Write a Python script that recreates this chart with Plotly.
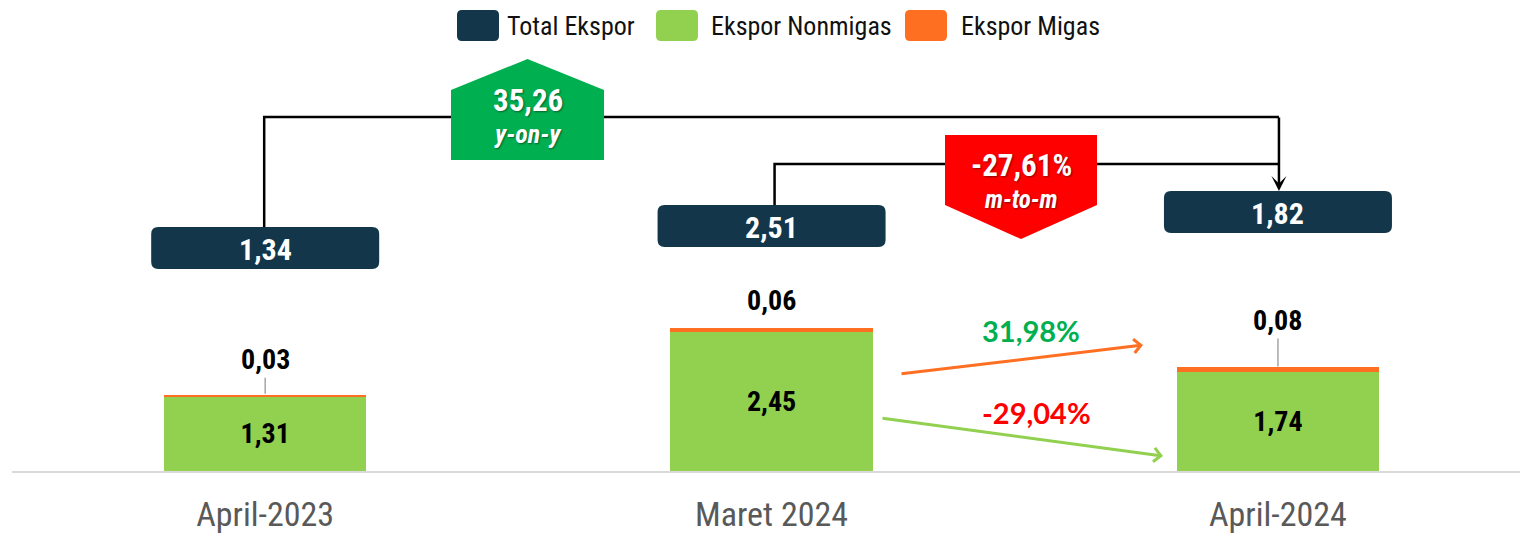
import subprocess
import plotly.graph_objects as go

# ---- data -----------------------------------------------------------------
categories = ["April-2023", "Maret 2024", "April-2024"]
nonmigas = [1.31, 2.45, 1.74]
migas = [0.03, 0.06, 0.08]
total = [1.34, 2.51, 1.82]
series_names = ["Total Ekspor", "Ekspor Nonmigas", "Ekspor Migas"]
yoy_change = 35.26
mtm_change = -27.61
migas_change = 31.98
nonmigas_change = -29.04


# ---- fonts ----------------------------------------------------------------
def installed_families():
    try:
        out = subprocess.run(["fc-list", ":", "family"], capture_output=True,
                             text=True, timeout=10).stdout
    except Exception:
        return set()
    fams = set()
    for line in out.splitlines():
        for f in line.split(","):
            fams.add(f.strip())
    return fams


FAMS = installed_families()
narrow_candidates = ["Liberation Sans Narrow", "Arial Narrow",
                     "Roboto Condensed", "Noto Sans Condensed",
                     "Open Sans Condensed", "DejaVu Sans Condensed"]
NARROW_FACE = next((f for f in narrow_candidates if f in FAMS), None)
if NARROW_FACE is None:
    NARROW_FACE = "Liberation Sans"
    NS = 0.84          # regular face is wider, shrink a little
else:
    NS = 1.0
NARROW = f"{NARROW_FACE}, Liberation Sans, sans-serif"
WIDE = "Lato, Liberation Sans, sans-serif"


def fs(size):
    return round(size * NS, 1)


# ---- styling --------------------------------------------------------------
NAVY = "#13364A"
GREEN = "#92D050"
ORANGE = "#FF6F22"
BADGE_GREEN = "#00B050"
BADGE_RED = "#FF0000"

W, H = 1520, 536
M_L, M_R, M_T, M_B = 12, 0, 0, 65
X_RANGE = [-0.5, 2.478]
Y_RANGE = [0, 8.28]
PLOT_W = W - M_L - M_R
PLOT_H = H - M_T - M_B
XS = PLOT_W / (X_RANGE[1] - X_RANGE[0])
YS = PLOT_H / (Y_RANGE[1] - Y_RANGE[0])


def xd(px):
    """screen x (px) -> x data units"""
    return X_RANGE[0] + (px - M_L) / XS


def yd(py):
    """screen y (px from top) -> y data units"""
    return Y_RANGE[0] + (M_T + PLOT_H - py) / YS


def xpx(x):
    """x data units -> screen x (px)"""
    return M_L + (x - X_RANGE[0]) * XS


def fmt(v, pct=False):
    s = f"{v:.2f}".replace(".", ",")
    return s + ("%" if pct else "")


def rounded_rect(x0, x1, y0, y1, r):
    """path for a rounded rectangle given in screen px"""
    pts = [
        f"M{xd(x0 + r)},{yd(y0)}",
        f"L{xd(x1 - r)},{yd(y0)}",
        f"Q{xd(x1)},{yd(y0)} {xd(x1)},{yd(y0 + r)}",
        f"L{xd(x1)},{yd(y1 - r)}",
        f"Q{xd(x1)},{yd(y1)} {xd(x1 - r)},{yd(y1)}",
        f"L{xd(x0 + r)},{yd(y1)}",
        f"Q{xd(x0)},{yd(y1)} {xd(x0)},{yd(y1 - r)}",
        f"L{xd(x0)},{yd(y0 + r)}",
        f"Q{xd(x0)},{yd(y0)} {xd(x0 + r)},{yd(y0)}",
        "Z",
    ]
    return " ".join(pts)


def poly(points):
    return "M" + " L".join(f"{xd(x)},{yd(y)}" for x, y in points) + " Z"


xs = list(range(len(categories)))

fig = go.Figure()
fig.add_trace(go.Bar(
    x=xs, y=nonmigas, name=series_names[1], width=0.4,
    marker=dict(color=GREEN, line=dict(width=0)),
    text=[fmt(v) for v in nonmigas], textposition="inside",
    insidetextanchor="middle", textangle=0,
    textfont=dict(family=NARROW, size=fs(28), color="#000000", weight="bold"),
    hoverinfo="skip", showlegend=False,
))
fig.add_trace(go.Bar(
    x=xs, y=migas, name=series_names[2], width=0.4,
    marker=dict(color=ORANGE, line=dict(width=0)),
    hoverinfo="skip", showlegend=False,
))

shapes = []
annotations = []

# ---- legend (drawn manually with rounded swatches) -----------------------
legend_items = [
    (series_names[0], NAVY, 457, 499, 505),
    (series_names[1], GREEN, 656, 698, 709),
    (series_names[2], ORANGE, 905, 947, 959),
]
for name, col, sx0, sx1, tx in legend_items:
    shapes.append(dict(type="path", xref="x", yref="y",
                       path=rounded_rect(sx0, sx1, 10, 41, 5),
                       fillcolor=col, line=dict(width=0), layer="above"))
    annotations.append(dict(x=xd(tx), y=yd(26), xref="x", yref="y",
                            text=name, showarrow=False, xanchor="left",
                            yanchor="middle",
                            font=dict(family=NARROW, size=fs(26),
                                      color="#111111")))

# ---- total export boxes ---------------------------------------------------
BOX_HALF_W = 114
box_centers_y = [248, 226, 212]
for i, t in enumerate(total):
    cx = xpx(i)
    cy = box_centers_y[i]
    shapes.append(dict(type="path", xref="x", yref="y",
                       path=rounded_rect(cx - BOX_HALF_W, cx + BOX_HALF_W,
                                         cy - 21, cy + 21, 7),
                       fillcolor=NAVY, line=dict(width=0), layer="above"))
    annotations.append(dict(x=i, y=yd(cy + 1), xref="x", yref="y",
                            text=fmt(t), showarrow=False,
                            font=dict(family=NARROW, size=fs(30),
                                      color="#FFFFFF", weight="bold")))

# ---- migas labels above the bars ------------------------------------------
label_offsets = [35, 28, 47]
leader = [True, False, True]
for i, m in enumerate(migas):
    top = nonmigas[i] + m
    lab_font = dict(family=NARROW, size=fs(28), color="#000000",
                    weight="bold")
    if leader[i]:
        annotations.append(dict(x=i, y=top, xref="x", yref="y", text=fmt(m),
                                showarrow=True, ax=0, ay=-label_offsets[i],
                                arrowhead=0, arrowwidth=1.5,
                                arrowcolor="#A6A6A6", standoff=1,
                                font=lab_font))
    else:
        annotations.append(dict(x=i, y=top, xref="x", yref="y", text=fmt(m),
                                showarrow=False, yshift=label_offsets[i],
                                font=lab_font))

# ---- connectors: y-on-y and m-to-m ---------------------------------------
shapes.append(dict(type="path", xref="x", yref="y",
                   path=f"M{xd(xpx(0) - 1)},{yd(box_centers_y[0] - 21)} "
                        f"L{xd(xpx(0) - 1)},{yd(117)} L{xd(xpx(2) + 1)},{yd(117)}",
                   line=dict(color="#000000", width=2.5)))
shapes.append(dict(type="path", xref="x", yref="y",
                   path=f"M{xd(xpx(1) + 3)},{yd(box_centers_y[1] - 21)} "
                        f"L{xd(xpx(1) + 3)},{yd(164)} L{xd(xpx(2) + 1)},{yd(164)}",
                   line=dict(color="#000000", width=2.5)))
annotations.append(dict(x=xd(xpx(2) + 1), y=yd(box_centers_y[2] - 21),
                        xref="x", yref="y",
                        ax=xd(xpx(2) + 1), ay=yd(116), axref="x", ayref="y",
                        text="", showarrow=True, arrowhead=3, arrowsize=1,
                        arrowwidth=2.5, arrowcolor="#000000", standoff=0))

shadow = "1px 1px 2px rgba(0,0,0,0.45)"

# green y-on-y badge (house shape)
shapes.append(dict(type="path", xref="x", yref="y",
                   path=poly([(451, 160), (451, 90), (527.5, 59),
                              (604, 90), (604, 160)]),
                   fillcolor=BADGE_GREEN, line=dict(width=0), layer="above"))
annotations.append(dict(x=xd(527.5), y=yd(100), xref="x", yref="y",
                        text=fmt(yoy_change), showarrow=False,
                        font=dict(family=NARROW, size=fs(31), color="#FFFFFF",
                                  weight="bold", shadow=shadow)))
annotations.append(dict(x=xd(527.5), y=yd(134), xref="x", yref="y",
                        text="<i>y-on-y</i>", showarrow=False,
                        font=dict(family=NARROW, size=fs(26), color="#FFFFFF",
                                  weight="bold", shadow=shadow)))

# red m-to-m badge (arrow-down shape)
shapes.append(dict(type="path", xref="x", yref="y",
                   path=poly([(945, 135), (1097, 135), (1097, 205),
                              (1021, 239), (945, 205)]),
                   fillcolor=BADGE_RED, line=dict(width=0), layer="above"))
annotations.append(dict(x=xd(1021), y=yd(165), xref="x", yref="y",
                        text=fmt(mtm_change, pct=True), showarrow=False,
                        font=dict(family=NARROW, size=fs(31), color="#FFFFFF",
                                  weight="bold", shadow=shadow)))
annotations.append(dict(x=xd(1021), y=yd(199), xref="x", yref="y",
                        text="<i>m-to-m</i>", showarrow=False,
                        font=dict(family=NARROW, size=fs(25), color="#FFFFFF",
                                  weight="bold", shadow=shadow)))

# ---- component change arrows ---------------------------------------------
annotations.append(dict(x=xd(1143), y=yd(345), ax=xd(900), ay=yd(374),
                        xref="x", yref="y", axref="x", ayref="y", text="",
                        showarrow=True, arrowhead=4, arrowsize=0.9,
                        arrowwidth=3, arrowcolor=ORANGE, standoff=0))
annotations.append(dict(x=xd(1163), y=yd(456), ax=xd(881), ay=yd(418),
                        xref="x", yref="y", axref="x", ayref="y", text="",
                        showarrow=True, arrowhead=4, arrowsize=0.9,
                        arrowwidth=3, arrowcolor=GREEN, standoff=0))
annotations.append(dict(x=xd(1031), y=yd(330), xref="x", yref="y",
                        text=fmt(migas_change, pct=True), showarrow=False,
                        font=dict(family=WIDE, size=29, color=BADGE_GREEN,
                                  weight="bold")))
annotations.append(dict(x=xd(1036), y=yd(412), xref="x", yref="y",
                        text=fmt(nonmigas_change, pct=True), showarrow=False,
                        font=dict(family=WIDE, size=29, color=BADGE_RED,
                                  weight="bold")))

fig.update_layout(
    width=W, height=H,
    margin=dict(l=M_L, r=M_R, t=M_T, b=M_B, pad=0),
    paper_bgcolor="#FFFFFF", plot_bgcolor="#FFFFFF",
    barmode="stack", bargap=0.6,
    separators=",.",
    showlegend=False,
    shapes=shapes,
    annotations=annotations,
    xaxis=dict(range=X_RANGE, tickmode="array", tickvals=xs,
               ticktext=categories, showgrid=False, zeroline=False,
               showline=True, linecolor="#D9D9D9", linewidth=2,
               ticks="", ticklabelstandoff=12, automargin=False,
               tickfont=dict(family=NARROW, size=fs(34), color="#595959"),
               fixedrange=True),
    yaxis=dict(range=Y_RANGE, visible=False, showgrid=False,
               zeroline=False, fixedrange=True, automargin=False),
)

fig.write_html("out.html", config={"displayModeBar": False})
